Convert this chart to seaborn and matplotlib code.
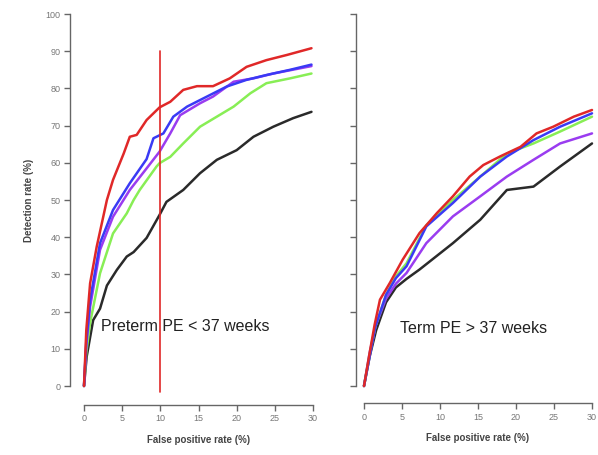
import matplotlib
matplotlib.use("Agg")
import matplotlib.pyplot as plt
import seaborn as sns
import pandas as pd

# ---- data (false positive rate %, detection rate %) ----
pre_red_x = [0, 0.1, 0.3, 0.8, 1.66, 3.0, 3.8, 5.2, 6.0, 6.9, 8.2, 9.9, 11.3, 13.0, 14.8, 16.9, 19.1, 21.3, 23.9, 26.6, 29.8]
pre_red_y = [0, 5, 15, 27.6, 37.4, 50, 55.4, 62.5, 67, 67.5, 71.5, 74.9, 76.4, 79.6, 80.6, 80.6, 82.7, 85.8, 87.6, 89, 90.8]

pre_black_x = [0, 0.35, 1.2, 2.1, 3.0, 4.3, 5.6, 6.5, 8.2, 9.9, 10.8, 13.0, 15.2, 17.4, 20.0, 22.2, 24.8, 27.4, 29.8]
pre_black_y = [0, 7.9, 17.7, 20.8, 27, 31.2, 34.8, 36, 39.8, 46, 49.5, 52.7, 57.2, 60.8, 63.4, 67, 69.7, 72, 73.7]

pre_green_x = [0, 0.3, 0.8, 2.1, 3.8, 5.6, 6.5, 7.3, 9.5, 9.9, 11.3, 13.0, 15.2, 17.4, 19.6, 21.8, 23.9, 27.0, 29.8]
pre_green_y = [0, 9, 17, 30.3, 41, 46.4, 50, 52.7, 59, 59.9, 61.6, 65.2, 69.7, 72.4, 75.1, 78.7, 81.4, 82.7, 84]

pre_blue_x = [0, 0.3, 0.8, 2.1, 3.8, 6.0, 8.2, 9.1, 10.4, 11.7, 13.5, 16.1, 18.7, 21.3, 23.9, 27.0, 29.8]
pre_blue_y = [0, 12, 23.1, 38.4, 47.3, 54.5, 61, 66.6, 67.9, 72.4, 75.1, 77.8, 80.5, 82.3, 83.6, 85, 86.4]

pre_purple_x = [0, 0.3, 0.8, 2.1, 3.8, 6.0, 8.2, 9.9, 11.3, 12.6, 15.2, 16.9, 19.6, 22.2, 24.8, 29.8]
pre_purple_y = [0, 11, 21.3, 36.6, 45.5, 52.7, 58.5, 63, 67.9, 72.8, 76, 77.8, 81.8, 82.7, 84, 86]

term_red_x = [0, 0.75, 1.4, 2.1, 3.4, 5.1, 7.3, 9.6, 11.7, 13.9, 15.7, 17.9, 20.6, 22.7, 24.9, 27.6, 30]
term_red_y = [0, 9, 16.5, 23.2, 27.7, 34, 41.1, 46.5, 51, 56.3, 59.4, 61.7, 64.3, 67.9, 69.7, 72.4, 74.2]

term_blue_x = [0, 0.75, 1.5, 2.9, 4.2, 5.6, 8.2, 11.7, 15.3, 18.8, 22.3, 25.8, 30]
term_blue_y = [0, 8, 16, 24.5, 29, 32.2, 42.9, 49.2, 56.3, 61.7, 66.1, 69.7, 73.3]

term_green_x = [0, 0.75, 1.5, 2.9, 4.2, 5.6, 8.2, 11.7, 15.3, 18.8, 22.3, 25.8, 30]
term_green_y = [0, 8.5, 16, 24.5, 29.5, 33, 43.2, 50, 56.3, 62.5, 65.2, 68.4, 72.4]

term_purple_x = [0, 0.75, 1.5, 2.9, 4.2, 5.6, 8.2, 11.7, 15.3, 18.8, 22.3, 25.8, 30]
term_purple_y = [0, 9, 16, 23.5, 27.5, 30.4, 38.4, 45.6, 51, 56.3, 60.8, 65.2, 67.9]

term_black_x = [0, 0.75, 1.6, 2.9, 4.2, 5.6, 7.3, 11.7, 15.3, 18.8, 22.3, 25.8, 30]
term_black_y = [0, 8, 15, 22.5, 26.5, 28.8, 31.3, 38.4, 44.7, 52.7, 53.6, 59, 65.2]

x_ticks = [0, 5, 10, 15, 20, 25, 30]
y_ticks = [0, 10, 20, 30, 40, 50, 60, 70, 80, 90, 100]

colors = {"black": "#2a2a2a", "green": "#88ee55", "purple": "#9a3cf0",
          "blue": "#3a3af5", "red": "#e02828"}

pre_series = {"black": (pre_black_x, pre_black_y), "green": (pre_green_x, pre_green_y),
              "purple": (pre_purple_x, pre_purple_y), "blue": (pre_blue_x, pre_blue_y),
              "red": (pre_red_x, pre_red_y)}
term_series = {"black": (term_black_x, term_black_y), "purple": (term_purple_x, term_purple_y),
               "green": (term_green_x, term_green_y), "blue": (term_blue_x, term_blue_y),
               "red": (term_red_x, term_red_y)}

sns.set_style("white")
plt.rcParams['font.family'] = ['Liberation Sans', 'DejaVu Sans']

W, H = 598, 455
fig = plt.figure(figsize=(W / 100, H / 100), dpi=100)
ax1 = fig.add_axes([84 / W, 1 - 386 / H, (313 - 84) / W, (386 - 14) / H])
ax2 = fig.add_axes([364 / W, 1 - 386 / H, (592 - 364) / W, (386 - 14) / H])

axis_grey = "#666666"


def style_axis(ax, left_out, bottom_out, show_ylabels):
    ax.set_xlim(0, 30)
    ax.set_ylim(0, 100)
    for s in ["top", "right"]:
        ax.spines[s].set_visible(False)
    ax.spines["left"].set_position(("outward", left_out))
    ax.spines["bottom"].set_position(("outward", bottom_out))
    ax.spines["left"].set_bounds(0, 100)
    ax.spines["bottom"].set_bounds(0, 30)
    for s in ["left", "bottom"]:
        ax.spines[s].set_color(axis_grey)
        ax.spines[s].set_linewidth(1.0)
    ax.set_xticks(x_ticks)
    ax.set_yticks(y_ticks)
    ax.tick_params(axis="both", direction="out", length=4, width=1.0, color=axis_grey,
                   labelsize=6.5, labelcolor="#777777", pad=3, left=True, bottom=True)
    if not show_ylabels:
        ax.set_yticklabels([])
    ax.set_xlabel("False positive rate (%)", fontsize=7, fontweight="bold", color="#444444", labelpad=8)


def draw(ax, series):
    for name, (xs, ys) in series.items():
        df = pd.DataFrame({"fpr": xs, "dr": ys})
        sns.lineplot(data=df, x="fpr", y="dr", ax=ax, color=colors[name], linewidth=1.8,
                     sort=False, estimator=None, clip_on=False)


draw(ax1, pre_series)
draw(ax2, term_series)

ax1.plot([10, 10], [-1.6, 90], color="#e02828", linewidth=1.2, clip_on=False)

style_axis(ax1, 10, 13.5, True)
style_axis(ax2, 6, 12.5, False)
ax1.set_ylabel("Detection rate (%)", fontsize=7, fontweight="bold", color="#444444", labelpad=8)
ax2.set_ylabel("")

ax1.text(2.2, 16, "Preterm PE < 37 weeks", fontsize=11.5, color="#222222", va="center")
ax2.text(4.7, 15.5, "Term PE > 37 weeks", fontsize=11.5, color="#222222", va="center")

fig.savefig("out.png", dpi=100)
